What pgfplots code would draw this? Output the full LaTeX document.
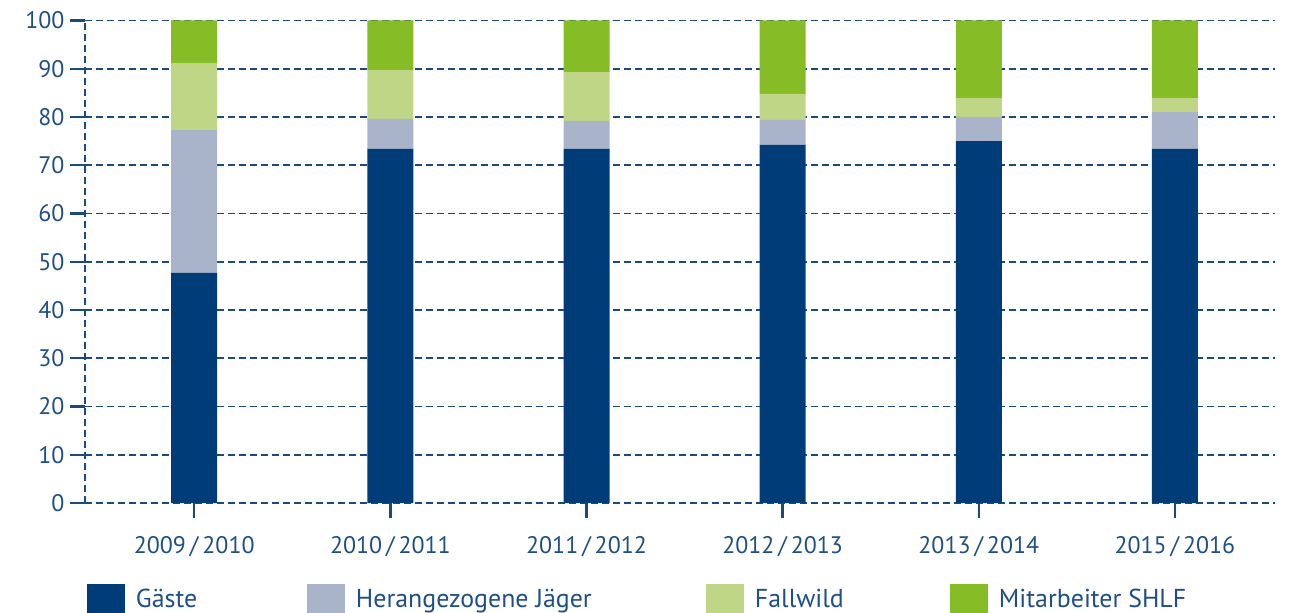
\documentclass[border=0pt]{standalone}
\usepackage{fontspec}
\setmainfont{PT Sans}
\usepackage{pgfplots}
\pgfplotsset{compat=1.18}
\definecolor{cG}{HTML}{003C78}
\definecolor{cJ}{HTML}{A9B4CB}
\definecolor{cF}{HTML}{BED685}
\definecolor{cM}{HTML}{86BC25}
\definecolor{txt}{HTML}{1F4F88}
\definecolor{grd}{HTML}{1A4A80}
\begin{document}
\begin{tikzpicture}
\begin{axis}[
  at={(0,0)}, anchor=south west,
  scale only axis, width=1190bp, height=482.5bp,
  ybar stacked, bar width=46bp,
  xmin=-0.557, xmax=5.51, ymin=0, ymax=100,
  xtick={0,1,2,3,4,5},
  xticklabels={2009\,/\,2010,2010\,/\,2011,2011\,/\,2012,2012\,/\,2013,2013\,/\,2014,2015\,/\,2016},
  ytick={0,10,...,100},
  axis lines*=left,
  axis line style={draw=grd, line width=1.9bp, dash pattern=on 7bp off 4bp},
  ymajorgrids,
  grid style={draw=grd, line width=1.9bp, dash pattern=on 7bp off 4bp},
  tick align=outside, major tick length=15bp,
  tick style={draw=grd, line width=2.4bp, solid},
  /pgf/number format/assume math mode=true,
  ticklabel style={font=\fontsize{24}{28}\selectfont, text=txt},
  yticklabel style={xshift=-2bp},
  xticklabel style={yshift=-15bp},
  legend columns=4,
  legend style={at={(0,0)}, anchor=north west, xshift=2bp, yshift=-81bp,
    draw=none, fill=none, inner sep=0pt, outer sep=0pt,
    font=\fontsize{26}{30}\selectfont, text=txt,
    nodes={inner sep=0pt, text height=19bp, text depth=7bp},
    /tikz/every odd column/.append style={column sep=11bp},
    /tikz/every even column/.append style={column sep=0bp}},
  legend image code/.code={\fill[#1] (0bp,-21bp) rectangle (38bp,17bp);},
]
\addplot[fill=cG, draw=none] coordinates {(0,47.7) (1,73.4) (2,73.4) (3,74.2) (4,75.0) (5,73.4)};
\addplot[fill=cJ, draw=none] coordinates {(0,29.6) (1,6.2) (2,5.8) (3,5.2) (4,5.0) (5,7.6)};
\addplot[fill=cF, draw=none] coordinates {(0,13.9) (1,10.1) (2,10.1) (3,5.4) (4,3.9) (5,2.9)};
\addplot[fill=cM, draw=none] coordinates {(0,8.8) (1,10.3) (2,10.7) (3,15.2) (4,16.1) (5,16.1)};
\addlegendentry{\makebox[171bp][l]{Gäste}}
\addlegendentry{\makebox[350bp][l]{Herangezogene Jäger}}
\addlegendentry{\makebox[195bp][l]{Fallwild}}
\addlegendentry{Mitarbeiter SHLF}
\end{axis}
\pgfresetboundingbox
\path[use as bounding box] (-85bp,-110bp) rectangle (1204bp,503bp);
\end{tikzpicture}
\end{document}
